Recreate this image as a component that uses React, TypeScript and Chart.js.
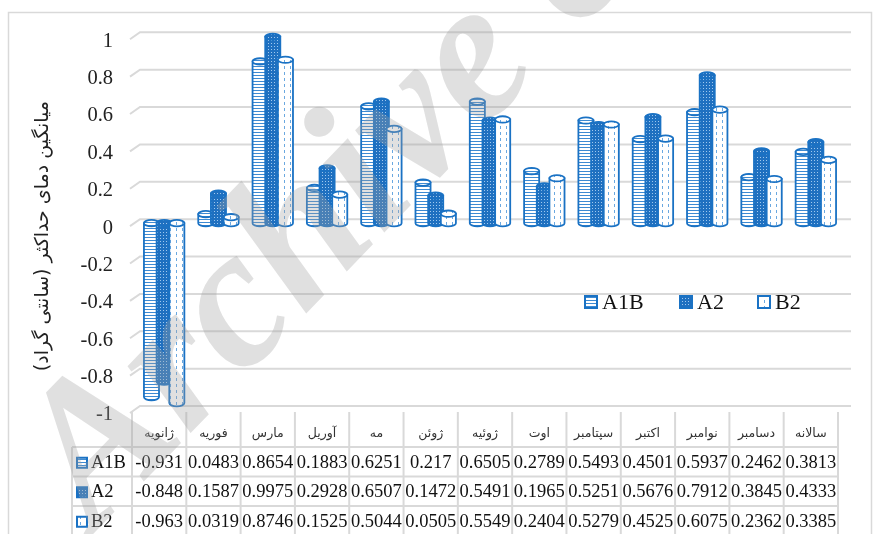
import React, { useEffect, useRef } from "react";
import { Chart, registerables } from "chart.js";

Chart.register(...registerables);

// ---------- data ----------
const categories = [
  "ژانویه", "فوریه", "مارس", "آوریل", "مه", "ژوئن", "ژوئیه",
  "اوت", "سپتامبر", "اکتبر", "نوامبر", "دسامبر", "سالانه",
];
const seriesNames = ["A1B", "A2", "B2"];
const a1bValues = [-0.931, 0.0483, 0.8654, 0.1883, 0.6251, 0.217, 0.6505, 0.2789, 0.5493, 0.4501, 0.5937, 0.2462, 0.3813];
const a2Values = [-0.848, 0.1587, 0.9975, 0.2928, 0.6507, 0.1472, 0.5491, 0.1965, 0.5251, 0.5676, 0.7912, 0.3845, 0.4333];
const b2Values = [-0.963, 0.0319, 0.8746, 0.1525, 0.5044, 0.0505, 0.5549, 0.2404, 0.5279, 0.4525, 0.6075, 0.2362, 0.3385];
const yMin = -1;
const yMax = 1;
const yStep = 0.2;
const yTitle = "میانگین دمای حداکثر (سانتی گراد)";
const watermarkText = "Archive of SID";

// ---------- styles ----------
const BLUE = "#1a72c4";
const GRID = "#d9d9d9";
const SERIF = "'Liberation Serif', 'Times New Roman', serif";
const PERSIAN = "'DejaVu Sans', sans-serif";

function makePattern(kind: string): CanvasPattern | string {
  const c = document.createElement("canvas");
  const g = c.getContext("2d");
  if (!g) return BLUE;
  if (kind === "A1B") {
    c.width = 4; c.height = 3;
    g.fillStyle = "#ffffff"; g.fillRect(0, 0, 4, 3);
    g.fillStyle = "#3d8ad2"; g.fillRect(0, 0, 4, 1);
  } else if (kind === "A2") {
    c.width = 3; c.height = 3;
    g.fillStyle = "#1f70c0"; g.fillRect(0, 0, 3, 3);
    g.fillStyle = "#9fc8ee"; g.fillRect(1, 1, 1, 1);
  } else {
    c.width = 6; c.height = 6;
    g.fillStyle = "#ffffff"; g.fillRect(0, 0, 6, 6);
    g.fillStyle = "#6aa8e0"; g.fillRect(2, 0, 1, 3);
  }
  const p = g.createPattern(c, "repeat");
  return p || BLUE;
}

const grid3dPlugin = {
  id: "grid3d",
  beforeDatasetsDraw(chart: any) {
    const { ctx, chartArea: ca } = chart;
    const ys = chart.scales.y;
    ctx.save();
    ctx.strokeStyle = GRID;
    ctx.lineWidth = 2;
    ys.ticks.forEach((t: any) => {
      const py = ys.getPixelForValue(t.value);
      ctx.beginPath();
      ctx.moveTo(ca.left - 7, py + 3);
      ctx.lineTo(ca.left + 3, py - 4);
      ctx.lineTo(ca.right + 8, py - 4);
      ctx.stroke();
    });
    ctx.restore();
  },
};

function drawCylinder(ctx: CanvasRenderingContext2D, x: number, top: number, bot: number, w: number, pat: any) {
  const l = x - w / 2;
  const r = x + w / 2;
  const ry = 3.2;
  ctx.fillStyle = pat;
  ctx.strokeStyle = BLUE;
  ctx.lineWidth = 1.8;
  ctx.beginPath();
  ctx.moveTo(l, top);
  ctx.lineTo(l, bot);
  ctx.ellipse(x, bot, w / 2, ry, 0, Math.PI, 0, true);
  ctx.lineTo(r, top);
  ctx.closePath();
  ctx.fill();
  ctx.stroke();
  ctx.beginPath();
  ctx.ellipse(x, top, w / 2, ry, 0, 0, Math.PI * 2);
  ctx.fill();
  ctx.stroke();
}

const cylinderPlugin = {
  id: "cylinders",
  afterDatasetsDraw(chart: any) {
    const { ctx } = chart;
    const metas = chart.data.datasets.map((_: any, i: number) => chart.getDatasetMeta(i));
    ctx.save();
    for (let i = 0; i < categories.length; i++) {
      metas.forEach((meta: any, d: number) => {
        const el = meta.data[i];
        if (!el) return;
        const { x, y, base, width } = el.getProps(["x", "y", "base", "width"], true);
        const top = Math.min(y, base);
        const bot = Math.max(y, base);
        drawCylinder(ctx, x, top, bot, width + 2.4, chart.data.datasets[d].backgroundColor);
      });
    }
    ctx.restore();
  },
};

const decorPlugin = {
  id: "decor",
  afterDraw(chart: any) {
    const { ctx, chartArea: ca } = chart;
    const xs = chart.scales.x;
    const ys = chart.scales.y;
    const datasets = chart.data.datasets;
    ctx.save();

    // outer border
    ctx.strokeStyle = GRID;
    ctx.lineWidth = 1.5;
    ctx.strokeRect(8.5, 12.5, 863, 540);

    // y title
    ctx.save();
    ctx.translate(43, (ca.top + ca.bottom) / 2 + 13);
    ctx.rotate(-Math.PI / 2);
    ctx.direction = "rtl";
    ctx.textAlign = "center";
    ctx.textBaseline = "middle";
    ctx.fillStyle = "#222";
    ctx.font = `19px ${PERSIAN}`;
    ctx.fillText(yTitle, 0, 0);
    ctx.restore();

    // legend inside plot
    const legendX = [585, 680, 758];
    const legendY = 302;
    datasets.forEach((ds: any, i: number) => {
      const bx = legendX[i];
      ctx.fillStyle = ds.backgroundColor;
      ctx.fillRect(bx, legendY - 6, 12, 12);
      ctx.strokeStyle = BLUE;
      ctx.lineWidth = 2;
      ctx.strokeRect(bx, legendY - 6, 12, 12);
      ctx.fillStyle = "#111";
      ctx.font = `22px ${SERIF}`;
      ctx.textAlign = "left";
      ctx.textBaseline = "middle";
      ctx.fillText(ds.label, bx + 17, legendY + 1);
    });

    // data table
    const band = (xs.right - xs.left) / categories.length;
    const shift = -5;
    const colLeft = (i: number) => xs.getPixelForValue(i) + shift - band / 2;
    const tTop = ys.getPixelForValue(yMin) + 2;
    const headBottom = tTop + 35;
    const rowH = 29.5;
    const keyLeft = 72;
    const tRight = colLeft(categories.length - 1) + band;
    ctx.strokeStyle = GRID;
    ctx.lineWidth = 2;
    for (let i = 0; i <= categories.length; i++) {
      const lx = colLeft(0) + i * band;
      ctx.beginPath();
      ctx.moveTo(lx, tTop);
      ctx.lineTo(lx, headBottom + rowH * 3 + 5);
      ctx.stroke();
    }
    ctx.beginPath();
    ctx.moveTo(keyLeft, headBottom);
    ctx.lineTo(keyLeft, headBottom + rowH * 3 + 5);
    ctx.stroke();
    for (let r = 0; r <= 3; r++) {
      const ly = headBottom + r * rowH;
      ctx.beginPath();
      ctx.moveTo(keyLeft, ly);
      ctx.lineTo(tRight, ly);
      ctx.stroke();
    }
    ctx.fillStyle = "#333";
    ctx.font = `12.5px ${PERSIAN}`;
    ctx.textAlign = "center";
    ctx.textBaseline = "middle";
    ctx.direction = "rtl";
    categories.forEach((c, i) => {
      ctx.fillText(c, colLeft(i) + band / 2, tTop + 22);
    });
    ctx.direction = "ltr";
    datasets.forEach((ds: any, r: number) => {
      const cy = headBottom + r * rowH + rowH / 2 + 1;
      ctx.fillStyle = ds.backgroundColor;
      ctx.fillRect(77, cy - 5, 10, 10);
      ctx.strokeStyle = BLUE;
      ctx.lineWidth = 2;
      ctx.strokeRect(77, cy - 5, 10, 10);
      ctx.fillStyle = "#111";
      ctx.font = `18.5px ${SERIF}`;
      ctx.textAlign = "left";
      ctx.fillText(ds.label, 91, cy);
      ctx.textAlign = "center";
      ds.data.forEach((v: number, i: number) => {
        ctx.fillText(String(v), colLeft(i) + band / 2, cy);
      });
    });

    // watermark
    ctx.save();
    ctx.translate(95, 532);
    ctx.rotate(-46 * Math.PI / 180);
    ctx.font = `italic bold 200px ${SERIF}`;
    ctx.fillStyle = "rgba(160,160,160,0.33)";
    ctx.textAlign = "left";
    ctx.textBaseline = "alphabetic";
    ctx.fillText(watermarkText, 0, 0);
    ctx.restore();

    ctx.restore();
  },
};

export default function App() {
  const canvasRef = useRef<HTMLCanvasElement | null>(null);

  useEffect(() => {
    const canvas = canvasRef.current;
    if (!canvas) return;
    const values = [a1bValues, a2Values, b2Values];
    const chart = new Chart(canvas, {
      type: "bar",
      data: {
        labels: categories,
        datasets: seriesNames.map((name, i) => ({
          label: name,
          data: values[i],
          backgroundColor: makePattern(name) as any,
          borderWidth: 0,
          categoryPercentage: 0.7,
          barPercentage: 1.0,
        })),
      },
      options: {
        responsive: false,
        animation: false,
        layout: { padding: { top: 36, bottom: 124, left: 0, right: 37 } },
        plugins: {
          legend: { display: false },
          tooltip: { enabled: false },
          title: { display: false },
        },
        scales: {
          x: { display: false, type: "category" },
          y: {
            min: yMin,
            max: yMax,
            afterFit: (scale: any) => { scale.width = 137; },
            grid: { display: false, drawTicks: false },
            border: { display: false },
            ticks: {
              stepSize: yStep,
              padding: 24,
              labelOffset: 5,
              color: "#222",
              font: { family: SERIF, size: 20.5 },
              callback: (v: any) => String(Number(Number(v).toFixed(1))),
            },
          },
        },
      },
      plugins: [grid3dPlugin, cylinderPlugin, decorPlugin],
    });
    return () => chart.destroy();
  }, []);

  return (
    <div style={{ position: "fixed", left: 0, top: 0, width: 880, height: 534, background: "#fff" }}>
      <canvas ref={canvasRef} width={880} height={534} style={{ display: "block" }} />
    </div>
  );
}
